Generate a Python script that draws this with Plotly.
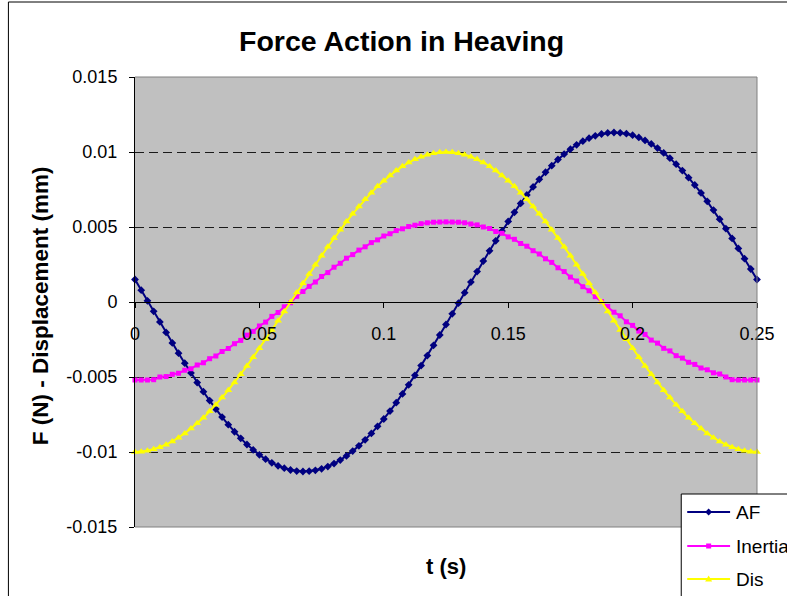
import plotly.graph_objects as go

# ---- data -------------------------------------------------------------
# sample times (s), step 0.0025 s over one period
t = [round(0.0025 * k, 4) for k in range(101)]

af = [
    0.00150, 0.00079, 0.00008, -0.00062, -0.00133, -0.00203, -0.00273, -0.00341, -0.00408, -0.00473,
    -0.00537, -0.00598, -0.00657, -0.00714, -0.00767, -0.00818, -0.00865, -0.00909, -0.00950, -0.00986,
    -0.01019, -0.01048, -0.01072, -0.01092, -0.01108, -0.01120, -0.01127, -0.01130, -0.01128, -0.01122,
    -0.01112, -0.01097, -0.01077, -0.01054, -0.01026, -0.00994, -0.00959, -0.00919, -0.00876, -0.00829,
    -0.00780, -0.00727, -0.00671, -0.00613, -0.00552, -0.00489, -0.00424, -0.00357, -0.00289, -0.00220,
    -0.00150, -0.00079, -0.00008, 0.00062, 0.00133, 0.00203, 0.00273, 0.00341, 0.00408, 0.00473,
    0.00537, 0.00598, 0.00657, 0.00714, 0.00767, 0.00818, 0.00865, 0.00909, 0.00950, 0.00986,
    0.01019, 0.01048, 0.01072, 0.01092, 0.01108, 0.01120, 0.01127, 0.01130, 0.01128, 0.01122,
    0.01112, 0.01097, 0.01077, 0.01054, 0.01026, 0.00994, 0.00959, 0.00919, 0.00876, 0.00829,
    0.00780, 0.00727, 0.00671, 0.00613, 0.00552, 0.00489, 0.00424, 0.00357, 0.00289, 0.00220,
    0.00150,
]

inertia = [
    -0.00520, -0.00520, -0.00520, -0.00518, -0.00500, -0.00497, -0.00482, -0.00475, -0.00455, -0.00445,
    -0.00420, -0.00405, -0.00378, -0.00360, -0.00330, -0.00310, -0.00278, -0.00256, -0.00221, -0.00196,
    -0.00160, -0.00134, -0.00096, -0.00070, -0.00032, -0.00005, 0.00038, 0.00070, 0.00104, 0.00133,
    0.00170, 0.00196, 0.00232, 0.00258, 0.00292, 0.00316, 0.00346, 0.00368, 0.00396, 0.00414,
    0.00440, 0.00455, 0.00476, 0.00488, 0.00503, 0.00512, 0.00522, 0.00528, 0.00532, 0.00533,
    0.00534, 0.00533, 0.00532, 0.00528, 0.00520, 0.00514, 0.00500, 0.00490, 0.00470, 0.00458,
    0.00434, 0.00418, 0.00390, 0.00372, 0.00342, 0.00320, 0.00288, 0.00264, 0.00228, 0.00203,
    0.00166, 0.00140, 0.00102, 0.00075, 0.00036, 0.00003, -0.00030, -0.00068, -0.00092, -0.00132,
    -0.00156, -0.00194, -0.00216, -0.00254, -0.00274, -0.00309, -0.00326, -0.00358, -0.00374, -0.00402,
    -0.00416, -0.00440, -0.00452, -0.00472, -0.00480, -0.00500, -0.00518, -0.00520, -0.00520, -0.00520,
    -0.00520,
]

dis = [
    -0.01000, -0.00998, -0.00992, -0.00982, -0.00969, -0.00951, -0.00930, -0.00905, -0.00876, -0.00844,
    -0.00809, -0.00771, -0.00729, -0.00685, -0.00637, -0.00588, -0.00536, -0.00482, -0.00426, -0.00368,
    -0.00309, -0.00249, -0.00187, -0.00125, -0.00063, 0.00000, 0.00063, 0.00125, 0.00187, 0.00249,
    0.00309, 0.00368, 0.00426, 0.00482, 0.00536, 0.00588, 0.00637, 0.00685, 0.00729, 0.00771,
    0.00809, 0.00844, 0.00876, 0.00905, 0.00930, 0.00951, 0.00969, 0.00982, 0.00992, 0.00998,
    0.01000, 0.00998, 0.00992, 0.00982, 0.00969, 0.00951, 0.00930, 0.00905, 0.00876, 0.00844,
    0.00809, 0.00771, 0.00729, 0.00685, 0.00637, 0.00588, 0.00536, 0.00482, 0.00426, 0.00368,
    0.00309, 0.00249, 0.00187, 0.00125, 0.00063, 0.00000, -0.00063, -0.00125, -0.00187, -0.00249,
    -0.00309, -0.00368, -0.00426, -0.00482, -0.00536, -0.00588, -0.00637, -0.00685, -0.00729, -0.00771,
    -0.00809, -0.00844, -0.00876, -0.00905, -0.00930, -0.00951, -0.00969, -0.00982, -0.00992, -0.00998,
    -0.01000,
]

series_names = ["AF", "Inertia", "Dis"]

x_ticks = [0, 0.05, 0.1, 0.15, 0.2, 0.25]
x_tick_labels = ["0", "0.05", "0.1", "0.15", "0.2", "0.25"]
y_ticks = [-0.015, -0.01, -0.005, 0, 0.005, 0.01, 0.015]
y_tick_labels = ["-0.015", "-0.01", "-0.005", "0", "0.005", "0.01", "0.015"]

title_text = "Force Action in Heaving"
x_title = "t (s)"
y_title = "F (N) - Displacement (mm)"

# ---- styling ----------------------------------------------------------
FONT = "Liberation Sans, Arial, sans-serif"
colors = ["#000080", "#FF00FF", "#FFFF00"]
symbols = ["diamond", "square", "triangle-up"]
marker_sizes = [6, 5, 7]

W, H = 787, 596
L, R, T, B = 135, 28, 77, 69
PW, PH = W - L - R, H - T - B


def px_x(px):
    return (px - L) / PW


def px_y(py):
    return (H - B - py) / PH


fig = go.Figure()
for name, ys, col, sym, ms in zip(series_names, [af, inertia, dis], colors, symbols, marker_sizes):
    fig.add_trace(go.Scatter(
        x=t, y=ys, name=name, mode="lines+markers",
        line=dict(color=col, width=2),
        marker=dict(color=col, symbol=sym, size=ms, line=dict(width=0)),
        cliponaxis=False, showlegend=False,
    ))

shapes = []
# outer chart frame
shapes.append(dict(type="rect", xref="paper", yref="paper",
                   x0=px_x(8), x1=px_x(830), y0=px_y(640), y1=px_y(2),
                   line=dict(color="black", width=1), layer="below"))
# plot area frame (top, right, bottom)
for x0, y0, x1, y1 in [(0, 1, 1, 1), (1, 0, 1, 1), (0, 0, 1, 0)]:
    shapes.append(dict(type="line", xref="paper", yref="paper", x0=x0, y0=y0, x1=x1, y1=y1,
                       line=dict(color="#808080", width=1), layer="above"))

# legend box
shapes.append(dict(type="rect", xref="paper", yref="paper",
                   x0=px_x(683), x1=px_x(840), y0=px_y(640), y1=px_y(494),
                   line=dict(color="black", width=1), fillcolor="white", layer="above"))

glyphs = {
    "diamond": "M-3.5,0 L0,3.5 L3.5,0 L0,-3.5 Z",
    "square": "M-2.5,-2.5 L2.5,-2.5 L2.5,2.5 L-2.5,2.5 Z",
    "triangle-up": "M-3.5,-2.5 L3.5,-2.5 L0,3.5 Z",
}
annotations = []
legend_rows = [512, 546, 579]
for name, col, sym, row in zip(series_names, colors, symbols, legend_rows):
    shapes.append(dict(type="line", xref="paper", yref="paper",
                       x0=px_x(689), x1=px_x(732), y0=px_y(row), y1=px_y(row),
                       line=dict(color=col, width=2), layer="above"))
    shapes.append(dict(type="path", xref="paper", yref="paper",
                       xsizemode="pixel", ysizemode="pixel",
                       xanchor=px_x(710.5), yanchor=px_y(row),
                       path=glyphs[sym], fillcolor=col, line=dict(color=col, width=0),
                       layer="above"))
    annotations.append(dict(text=name, xref="paper", yref="paper",
                            x=px_x(736), y=px_y(row), xanchor="left", yanchor="middle",
                            showarrow=False, font=dict(family=FONT, size=19, color="black")))

annotations.append(dict(text="<b>%s</b>" % title_text, xref="paper", yref="paper",
                        x=px_x(402), y=px_y(41), xanchor="center", yanchor="middle",
                        showarrow=False, font=dict(family=FONT, size=28.5, color="black")))
annotations.append(dict(text="<b>%s</b>" % x_title, xref="paper", yref="paper",
                        x=px_x(447), y=px_y(566), xanchor="center", yanchor="middle",
                        showarrow=False, font=dict(family=FONT, size=22, color="black")))
annotations.append(dict(text="<b>%s</b>" % y_title, xref="paper", yref="paper",
                        x=px_x(40), y=px_y(306), xanchor="center", yanchor="middle",
                        textangle=-90, showarrow=False,
                        font=dict(family=FONT, size=22.5, color="black")))

fig.update_layout(
    width=W, height=H,
    margin=dict(l=L, r=R, t=T, b=B, pad=0),
    paper_bgcolor="white", plot_bgcolor="#C0C0C0",
    font=dict(family=FONT, size=18, color="black"),
    shapes=shapes, annotations=annotations,
    showlegend=False,
    xaxis=dict(
        range=[0, 0.25], tickmode="array", tickvals=x_ticks, ticktext=x_tick_labels,
        anchor="free", position=0.5,
        showline=True, linecolor="black", linewidth=1,
        ticks="outside", ticklen=5, tickcolor="black", ticklabelstandoff=10,
        showgrid=False, zeroline=False,
        tickfont=dict(family=FONT, size=18, color="black"),
    ),
    yaxis=dict(
        range=[-0.015, 0.015], tickmode="array", tickvals=y_ticks, ticktext=y_tick_labels,
        showline=True, linecolor="black", linewidth=1,
        ticks="outside", ticklen=5, tickcolor="black", ticklabelstandoff=8,
        showgrid=True, gridcolor="#1a1a1a", gridwidth=1, griddash="9px,5px",
        zeroline=True, zerolinecolor="black", zerolinewidth=1,
        tickfont=dict(family=FONT, size=18, color="black"),
    ),
)

fig.write_html("out.html")
